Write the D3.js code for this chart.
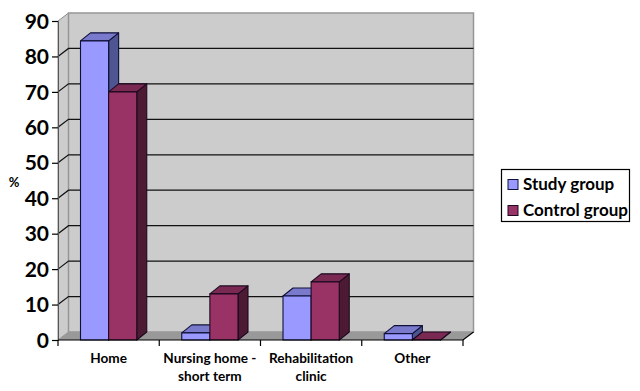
<!DOCTYPE html>
<html>
<head>
<meta charset="UTF-8">
<title>Discharge destination</title>
<script src="https://d3js.org/d3.v7.min.js"></script>
<style>
    html, body { margin: 0; background: #fff; }
    svg { display: block; }
    text { font-family: Lato, "Open Sans", sans-serif; font-weight: 700; fill: #000; }
</style>
</head>
<body>
<svg id="chart" width="640" height="391"></svg>
<script>
const categories = [["Home"], ["Nursing home -", "short term"], ["Rehabilitation", "clinic"], ["Other"]];
const seriesNames = ["Study group", "Control group"];
const studyValues = [84.4, 2, 12.4, 1.8];
const controlValues = [70, 13, 16.4, 0];
const yTicks = [0, 10, 20, 30, 40, 50, 60, 70, 80, 90];

const colors = [
    { front: "#9999ff", top: "#7a7acc", side: "#4e5590", stroke: "#10103a" },
    { front: "#993366", top: "#7a2952", side: "#4d1a33", stroke: "#1c0a20" }
];

const svg = d3.select("#chart");
const depthX = 10.5, depthY = -8;   // 3d offset of the back wall
const barDepthX = 10, barDepthY = -8;

const names = categories.map(c => c.join(" "));
const x = d3.scaleBand().domain(names).range([58, 463]);
const inner = d3.scaleBand().domain(d3.range(2)).range([22.5, x.bandwidth() - 22.5]);
const y = d3.scaleLinear().domain([0, 90]).range([340, 21]);

const poly = pts => pts.map(p => p.join(",")).join(" ");
const [x0, x1] = x.range();
const [y0, y1] = y.range();

// walls and floor
svg.append("polygon")
    .attr("points", poly([[x0, y0], [x0 + depthX, y0 + depthY], [x0 + depthX, y1 + depthY], [x0, y1]]))
    .attr("fill", "#cccccc").attr("stroke", "#8c8c8c");
svg.append("polygon")
    .attr("points", poly([[x0 + depthX, y0 + depthY], [x1 + depthX, y0 + depthY], [x1 + depthX, y1 + depthY], [x0 + depthX, y1 + depthY]]))
    .attr("fill", "#cccccc").attr("stroke", "#969696").attr("stroke-width", 1.5);
svg.append("polygon")
    .attr("points", poly([[x0, y0], [x1, y0], [x1 + depthX, y0 + depthY], [x0 + depthX, y0 + depthY]]))
    .attr("fill", "#999999");

// gridlines on the back wall + the slanted bit on the side wall
const grid = yTicks.filter(d => d > 0 && d < 90);
svg.append("g").selectAll("path").data(grid).enter().append("path")
    .attr("d", d => `M${x0},${y(d)}L${x0 + depthX},${y(d) + depthY}L${x1 + depthX},${y(d) + depthY}`)
    .attr("fill", "none").attr("stroke", "#111").attr("stroke-width", 1.2);

// axes
const yAxis = svg.append("g").attr("transform", `translate(${x0},0)`)
    .call(d3.axisLeft(y).tickValues(yTicks).tickSize(6).tickPadding(3));
yAxis.select(".domain").attr("stroke", "#555");
yAxis.selectAll("line").attr("stroke", "#000").attr("stroke-width", 1.2);
yAxis.selectAll("text").style("font-size", "21px").attr("dy", "0.34em");

// bars
const bars = [];
categories.forEach((c, i) => {
    bars.push({ cat: names[i], s: 0, v: studyValues[i] });
    bars.push({ cat: names[i], s: 1, v: controlValues[i] });
});
const bar = svg.append("g").selectAll("g").data(bars).enter().append("g")
    .attr("stroke-width", 1.1).attr("stroke-linejoin", "round");
const left = d => x(d.cat) + inner(d.s);
const right = d => left(d) + inner.bandwidth();
bar.append("polygon")
    .attr("points", d => poly([[right(d), y(0)], [right(d) + barDepthX, y(0) + barDepthY], [right(d) + barDepthX, y(d.v) + barDepthY], [right(d), y(d.v)]]))
    .attr("fill", d => colors[d.s].side).attr("stroke", d => colors[d.s].stroke);
bar.append("polygon")
    .attr("points", d => poly([[left(d), y(d.v)], [right(d), y(d.v)], [right(d) + barDepthX, y(d.v) + barDepthY], [left(d) + barDepthX, y(d.v) + barDepthY]]))
    .attr("fill", d => colors[d.s].top).attr("stroke", d => colors[d.s].stroke);
bar.append("rect")
    .attr("x", left).attr("y", d => y(d.v))
    .attr("width", inner.bandwidth()).attr("height", d => y(0) - y(d.v))
    .attr("fill", d => colors[d.s].front).attr("stroke", d => colors[d.s].stroke);

// x axis, ticks sit on the band edges so they are drawn apart from the labels
svg.append("path")
    .attr("d", `M${x0},${y0}H${x1}L${x1 + depthX},${y0 + depthY}`)
    .attr("fill", "none").attr("stroke", "#000").attr("stroke-width", 1.2);
const edges = names.map(n => x(n)).concat(x1);
svg.append("g").selectAll("line").data(edges).enter().append("line")
    .attr("x1", d => d).attr("x2", d => d).attr("y1", y0).attr("y2", y0 + 6)
    .attr("stroke", "#000").attr("stroke-width", 1.2);

const labels = svg.append("g").selectAll("text").data(categories).enter().append("text")
    .attr("text-anchor", "middle").style("font-size", "13.6px");
labels.selectAll("tspan").data((c, i) => c.map(t => ({ t, i }))).enter().append("tspan")
    .attr("x", d => x(names[d.i]) + x.bandwidth() / 2)
    .attr("y", (d, j) => 363 + j * 18)
    .text(d => d.t);

svg.append("text").attr("x", 14).attr("y", 187)
    .attr("text-anchor", "middle").style("font-size", "13px").text("%");

// legend
const legend = svg.append("g");
legend.append("rect").attr("x", 501.5).attr("y", 169.5).attr("width", 128).attr("height", 52)
    .attr("fill", "#fff").attr("stroke", "#000").attr("stroke-width", 1.2);
const item = legend.selectAll("g").data(seriesNames).enter().append("g")
    .attr("transform", (d, i) => `translate(508,${179.5 + i * 26})`);
item.append("rect").attr("width", 10).attr("height", 10)
    .attr("fill", (d, i) => colors[i].front).attr("stroke", (d, i) => colors[i].stroke);
item.append("text").attr("x", 15).attr("y", 10.5)
    .style("font-size", "17px").text(d => d);
</script>
</body>
</html>
